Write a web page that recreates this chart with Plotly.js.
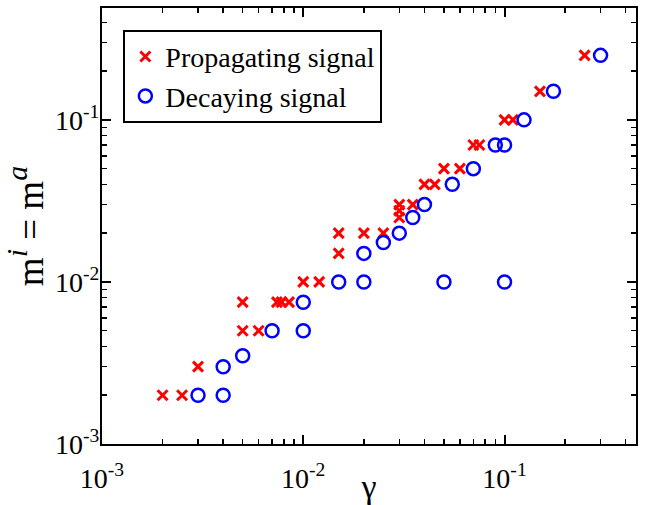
<!DOCTYPE html>
<html>
<head>
<meta charset="utf-8">
<script src="https://cdn.plot.ly/plotly-3.0.1.min.js"></script>
<style>html,body{margin:0;padding:0;background:#fff;}#chart{width:649px;height:505px;}</style>
</head>
<body>
<div id="chart"></div>
<script>
// Propagating signal (red crosses)
const propGamma = [0.002, 0.0025, 0.003, 0.005, 0.006, 0.005, 0.0074, 0.0078, 0.0085, 0.01, 0.012,
  0.015, 0.015, 0.02, 0.025, 0.03, 0.03, 0.03, 0.035, 0.04, 0.045, 0.05, 0.06, 0.07, 0.075, 0.1, 0.11, 0.15, 0.25];
const propM = [0.002, 0.002, 0.003, 0.005, 0.005, 0.0075, 0.0075, 0.0075, 0.0075, 0.01, 0.01,
  0.015, 0.02, 0.02, 0.02, 0.025, 0.0275, 0.03, 0.03, 0.04, 0.04, 0.05, 0.05, 0.07, 0.07, 0.1, 0.1, 0.15, 0.25];
// Decaying signal (blue circles)
const decGamma = [0.003, 0.004, 0.004, 0.005, 0.007, 0.01, 0.01, 0.015, 0.02, 0.05, 0.1,
  0.02, 0.025, 0.03, 0.035, 0.04, 0.055, 0.07, 0.09, 0.1, 0.125, 0.175, 0.3];
const decM = [0.002, 0.002, 0.003, 0.0035, 0.005, 0.005, 0.0075, 0.01, 0.01, 0.01, 0.01,
  0.015, 0.0175, 0.02, 0.025, 0.03, 0.04, 0.05, 0.07, 0.07, 0.1, 0.15, 0.25];
const seriesNames = ['Propagating signal', 'Decaying signal'];
const tickVals = [0.001, 0.01, 0.1];
const tickText = ['10<sup>-3</sup>', '10<sup>-2</sup>', '10<sup>-1</sup>'];

const serif = 'Liberation Serif, Times New Roman, serif';

const traces = [
  {x: propGamma, y: propM, name: seriesNames[0], mode: 'markers', type: 'scatter',
   marker: {symbol: 'x-thin-open', size: 10, color: '#ff0000', line: {color: '#ff0000', width: 3}}},
  {x: decGamma, y: decM, name: seriesNames[1], mode: 'markers', type: 'scatter',
   marker: {symbol: 'circle-open', size: 13, color: '#0000ff', line: {color: '#0000ff', width: 2.5}}}
];

const axisCommon = {
  type: 'log',
  showline: true, linewidth: 2, linecolor: '#000', mirror: 'ticks',
  ticks: 'inside', ticklen: 9, tickwidth: 2, tickcolor: '#000',
  showgrid: false, zeroline: false,
  tickmode: 'array', tickvals: tickVals, ticktext: tickText,
  tickfont: {family: serif, size: 28, color: '#000'},
  minor: {ticks: 'inside', ticklen: 5, tickwidth: 1.5, tickcolor: '#000', dtick: 'D1', showgrid: false}
};

const layout = {
  width: 649, height: 505,
  margin: {l: 102, r: 13, t: 8, b: 61},
  paper_bgcolor: '#fff', plot_bgcolor: '#fff',
  showlegend: true,
  legend: {x: 0.04, y: 0.95, xanchor: 'left', yanchor: 'top',
    bgcolor: '#fff', bordercolor: '#000', borderwidth: 2,
    font: {family: serif, size: 28, color: '#000'}},
  xaxis: Object.assign({}, axisCommon, {
    range: [-3, Math.log10(0.45)],
    ticklabelstandoff: 8,
    title: {text: 'γ', font: {family: serif, size: 34, color: '#000'}, standoff: 0}
  }),
  yaxis: Object.assign({}, axisCommon, {
    range: [-3, Math.log10(0.49)],
    ticklabelstandoff: -5,
    title: {text: 'm<sup><span style="font-size:30px"><i>i</i></span></sup> = m<sup><span style="font-size:30px"><i>a</i></span></sup>',
      font: {family: serif, size: 37, color: '#000'}, standoff: 2}
  })
};

Plotly.newPlot('chart', traces, layout, {displayModeBar: false, staticPlot: true});
</script>
</body>
</html>
